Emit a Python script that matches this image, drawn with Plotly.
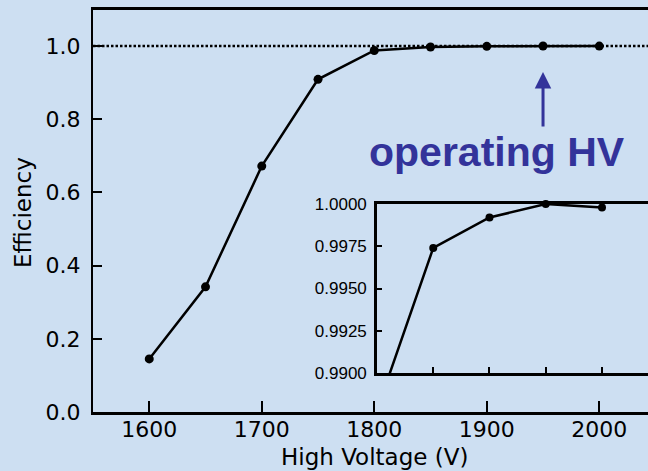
import numpy as np
import plotly.graph_objects as go

# Efficiency scan versus high voltage
hv = [1600, 1650, 1700, 1750, 1800, 1850, 1900, 1950, 2000]
efficiency = [0.145, 0.342, 0.672, 0.909, 0.9878, 0.9974, 0.9992, 1.0000, 0.9998]

main_xticks = [1600, 1700, 1800, 1900, 2000]
main_yticks = [0.0, 0.2, 0.4, 0.6, 0.8, 1.0]
inset_xticks = [1850, 1900, 1950, 2000]
inset_yticks = [0.9900, 0.9925, 0.9950, 0.9975, 1.0000]
inset_range = [0.9900, 1.0000]
operating_hv = 1950

BG = "#cddff2"
INK = "black"
BLUE = "#33339a"
TICK_FONT = dict(family="DejaVu Sans", size=22, color=INK)
TITLE_FONT = dict(family="DejaVu Sans", size=23, color=INK)

fig = go.Figure()

# main curve
fig.add_trace(go.Scatter(
    x=hv, y=efficiency, mode="lines+markers",
    line=dict(color=INK, width=2.5),
    marker=dict(color=INK, size=9),
    xaxis="x", yaxis="y", showlegend=False,
))

# zoomed view near full efficiency
fig.add_trace(go.Scatter(
    x=hv, y=efficiency, mode="lines",
    line=dict(color=INK, width=2.5),
    xaxis="x2", yaxis="y2", showlegend=False,
))
hv_arr = np.array(hv)
eff_arr = np.array(efficiency)
in_view = eff_arr >= inset_range[0]
fig.add_trace(go.Scatter(
    x=hv_arr[in_view], y=eff_arr[in_view], mode="markers",
    marker=dict(color=INK, size=8), cliponaxis=False,
    xaxis="x2", yaxis="y2", showlegend=False,
))

fig.update_layout(
    width=648, height=471,
    margin=dict(l=93, r=0, t=10, b=59),
    paper_bgcolor=BG, plot_bgcolor=BG,
    xaxis=dict(
        domain=[0, 1], range=[1550, 2043.3],
        tickvals=main_xticks, ticks="inside", ticklen=11, tickwidth=2,
        tickcolor=INK, showline=True, linecolor=INK, linewidth=2.5,
        mirror=True, showgrid=False, zeroline=False,
        tickfont=TICK_FONT, ticklabelstandoff=-4,
    ),
    yaxis=dict(
        domain=[0, 1], range=[0, 1.0984],
        tickvals=main_yticks, tickformat=".1f", ticks="inside", ticklen=9,
        tickwidth=2, tickcolor=INK, showline=True, linecolor=INK,
        linewidth=2, showgrid=False, zeroline=False,
        tickfont=TICK_FONT, ticklabelstandoff=6,
    ),
    xaxis2=dict(
        domain=[0.5117, 1], range=[1800, 2040.9], anchor="y2",
        tickvals=inset_xticks, showticklabels=False, ticks="inside",
        ticklen=6, tickwidth=2, tickcolor=INK, showline=True,
        linecolor=INK, linewidth=2.5, mirror=True, showgrid=False,
        zeroline=False,
    ),
    yaxis2=dict(
        domain=[0.097, 0.5174], range=inset_range, anchor="x2",
        tickvals=inset_yticks, tickformat=".4f", ticks="inside",
        ticklen=5, tickwidth=2, tickcolor=INK, showline=True,
        linecolor=INK, linewidth=2.5, showgrid=False, zeroline=False,
        tickfont=dict(family="Liberation Sans", size=17, color=INK),
        ticklabelstandoff=4,
    ),
)

# full-efficiency reference line
fig.add_shape(
    type="line", xref="paper", yref="y", x0=0, x1=1, y0=1.0, y1=1.0,
    line=dict(color=INK, width=2.5, dash="2.5px,2px"), layer="below",
)

# axis titles
fig.add_annotation(
    text="High Voltage (V)", xref="paper", yref="paper", x=0.508, y=0,
    xanchor="center", yanchor="top", yshift=-30, showarrow=False,
    font=TITLE_FONT,
)
fig.add_annotation(
    text="Efficiency", xref="paper", yref="paper", x=0, y=0.495,
    xanchor="center", yanchor="middle", xshift=-70, textangle=-90,
    showarrow=False, font=TITLE_FONT,
)

# operating point marker
fig.add_annotation(
    x=operating_hv, y=0.929, ax=operating_hv, ay=0.776,
    xref="x", yref="y", axref="x", ayref="y",
    showarrow=True, arrowhead=2, arrowsize=1.1, arrowwidth=3,
    arrowcolor=BLUE, text="",
)
fig.add_annotation(
    text="<b>operating HV</b>", x=1909, y=0.71, xref="x", yref="y",
    xanchor="center", yanchor="middle", showarrow=False,
    font=dict(family="Liberation Sans", size=41, color=BLUE),
)

fig.write_html("out.html")
